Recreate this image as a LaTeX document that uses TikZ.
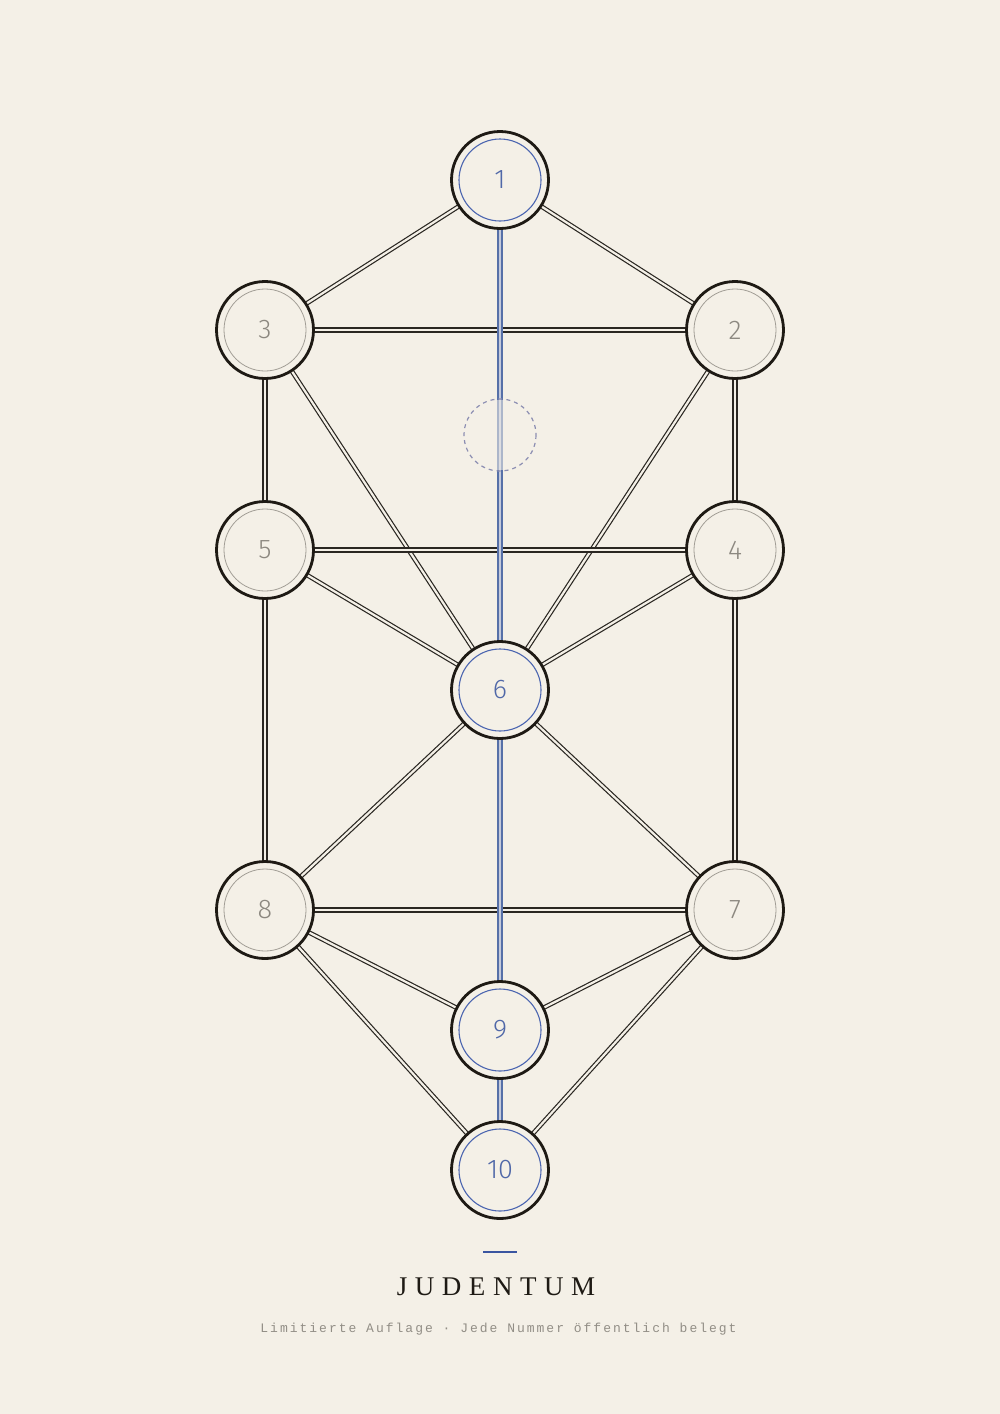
\documentclass[tikz,border=0pt]{standalone}
\usepackage{fontspec}
\setmainfont{Liberation Serif}
\IfFontExistsTF{Fira Sans Light}{\newfontfamily\numfont{Fira Sans Light}}{\newfontfamily\numfont{Fira Sans}}
\newfontfamily\subfont{Liberation Mono}
\newfontfamily\titlefont{Liberation Serif}
\definecolor{bg}{HTML}{F4F0E7}
\definecolor{ink}{HTML}{1E1A14}
\definecolor{pathc}{HTML}{2A2722}
\definecolor{ringgray}{HTML}{A29E96}
\definecolor{numgray}{HTML}{8C8880}
\definecolor{blueline}{HTML}{5670A8}
\definecolor{bluefill}{HTML}{C4CADB}
\definecolor{bluering}{HTML}{4C66B0}
\definecolor{bluenum}{HTML}{5068A8}
\definecolor{dashc}{HTML}{8C8EB2}
\definecolor{barblue}{HTML}{3A55A0}
\definecolor{subgray}{HTML}{928E86}
\begin{document}
\begin{tikzpicture}[x=1pt,y=-1pt,
  sefira/.style={circle, minimum size=97pt, inner sep=0pt, fill=bg, draw=ink, line width=2.8pt},
  grayring/.style={draw=ringgray, line width=0.8pt},
  bluering/.style={draw=bluering, line width=1.1pt},
  graynum/.style={font=\numfont\fontsize{27}{27}\selectfont, text=numgray},
  bluenum/.style={font=\numfont\fontsize{27}{27}\selectfont, text=bluenum},
  pathline/.style={draw=pathc, line width=1.2pt, double=bg, double distance=2.2pt},
  strongline/.style={draw=pathc, line width=1.6pt, double=bg, double distance=2pt},
  centerline/.style={draw=blueline, line width=1.6pt, double=bluefill, double distance=2pt},
]
\fill[bg] (0,0) rectangle (1000,1414);
\useasboundingbox (0,0) rectangle (1000,1414);

% node positions
\coordinate (p1) at (500,180);
\coordinate (p2) at (735,330);
\coordinate (p3) at (265,330);
\coordinate (p4) at (735,550);
\coordinate (p5) at (265,550);
\coordinate (p6) at (500,690);
\coordinate (p7) at (735,910);
\coordinate (p8) at (265,910);
\coordinate (p9) at (500,1030);
\coordinate (p10) at (500,1170);

% paths
\foreach \a/\b in {1/3,1/2,3/6,2/6,5/6,4/6,6/8,6/7,8/9,7/9,8/10,7/10}
  \draw[pathline] (p\a) -- (p\b);
\foreach \a/\b in {3/2,5/4,8/7,3/5,5/8,2/4,4/7}
  \draw[strongline] (p\a) -- (p\b);
\foreach \a/\b in {1/6,6/9,9/10}
  \draw[centerline] (p\a) -- (p\b);

% hidden sefira (Daat)
\coordinate (daat) at (500,435);
\fill[bg, opacity=0.55] (daat) circle (35);
\draw[dashc, line width=1.2pt, dash pattern=on 4pt off 4pt] (daat) circle (36);

% sefirot
\foreach \n in {2,3,4,5,7,8} {
  \node[sefira] (s\n) at (p\n) {};
  \draw[grayring] (p\n) circle (41);
  \node[graynum] (t\n) at (p\n) {\n};
}
\foreach \n in {1,6,9,10} {
  \node[sefira] (s\n) at (p\n) {};
  \draw[bluering] (p\n) circle (41);
  \node[bluenum] (t\n) at (p\n) {\n};
}

% title block
\draw[barblue, line width=2.5pt] (483,1252) -- (517,1252);
\node[font=\titlefont\fontsize{27}{27}\selectfont\addfontfeature{LetterSpace=28}, text=ink, anchor=base] (title) at (496,1295) {JUDENTUM};
\node[font=\subfont\fontsize{13}{13}\selectfont\addfontfeature{LetterSpace=15.4}, text=subgray, anchor=base] (sub) at (498.5,1332) {Limitierte Auflage · Jede Nummer öffentlich belegt};
\end{tikzpicture}
\end{document}
